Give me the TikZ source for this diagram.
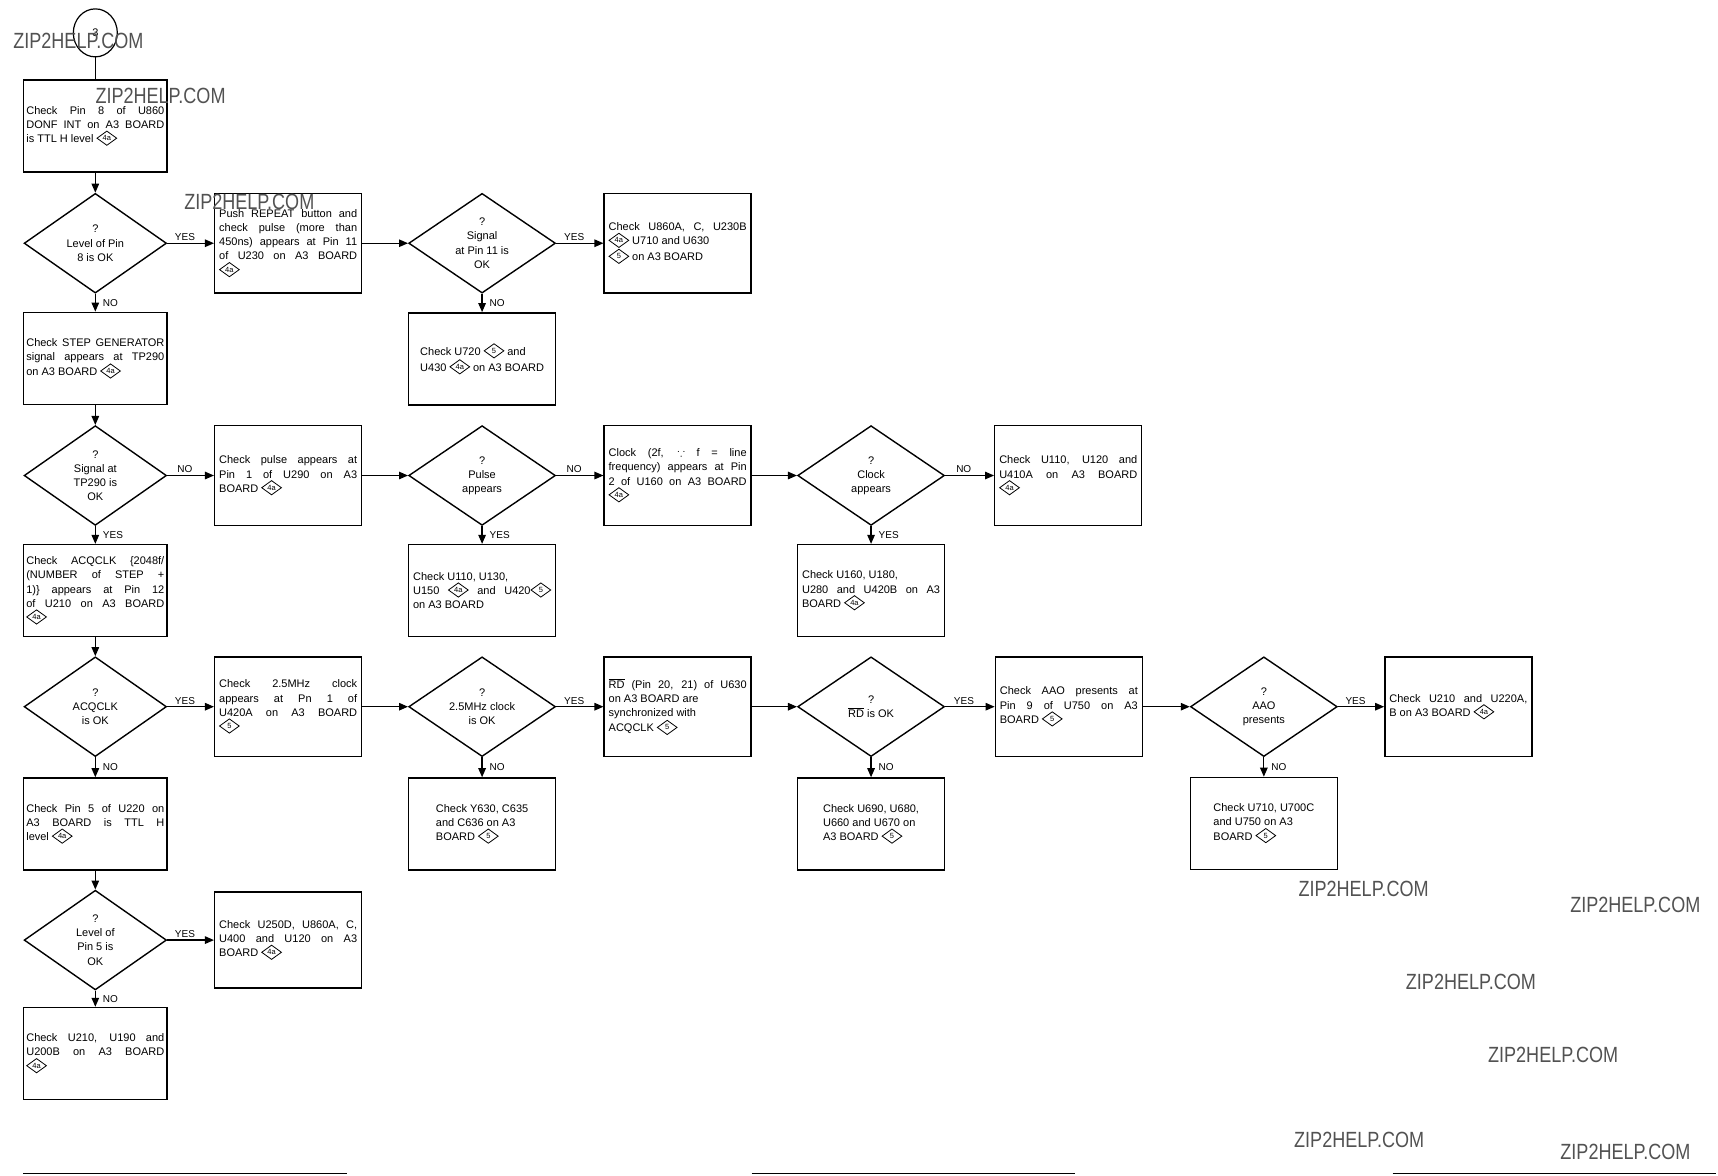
\documentclass[tikz,border=0pt]{standalone}
\usepackage{fontspec}
\setmainfont{Liberation Sans}
\usepackage{amssymb}
\usetikzlibrary{shapes.geometric,arrows.meta}
\newcommand\dmk[1]{\raisebox{-3pt}{\tikz\node[draw,diamond,shape aspect=1.3,line width=0.8pt,inner sep=0pt,minimum width=20pt,minimum height=14.5pt,font=\fontsize{7.5}{7.5}\selectfont]{#1};}}
\newcommand\rdbar{$\overline{\hbox{RD}}$}
\newcommand\jl[1]{\makebox[138pt][s]{#1}}
\tikzset{
  box/.style={draw,rectangle,line width=1.4pt,minimum width=147pt,minimum height=92pt,inner sep=2pt,align=left,font=\fontsize{11}{14.2}\selectfont},
  boxt/.style={box,minimum height=99.7pt},
  colone/.style={minimum width=143.5pt},
  dia/.style={draw,diamond,line width=1.4pt,aspect=1.47,inner sep=0pt,minimum width=146.8pt,minimum height=99.7pt,align=center,font=\fontsize{11}{14.2}\selectfont},
  arr/.style={line width=1.2pt,-{Triangle[length=9pt,width=7.5pt]}},
  plain/.style={line width=1.2pt},
  lblh/.style={above,pos=0.38,inner sep=2pt,font=\fontsize{10}{10}\selectfont},
  lblv/.style={right,pos=0.5,inner sep=7pt,font=\fontsize{10}{10}\selectfont},
  wm/.style={anchor=west,inner sep=0pt,text=black!68,font=\fontsize{22}{22}\selectfont}
}
\begin{document}
\begin{tikzpicture}[x=1.0957pt,y=-1.0957pt]
\fill[white] (0,0) rectangle (1568,1073.3);
\useasboundingbox (0,0) rectangle (1568,1073.3);

% start
\node[draw,ellipse,line width=1.2pt,minimum width=44pt,minimum height=48pt,inner sep=0pt,font=\fontsize{11}{11}\selectfont] (start) at (87,30) {3};

% column 1
\node[box,colone] (a1) at (87,115) {\jl{Check Pin 8 of U860}\\\jl{DONF INT on A3 BOARD}\\is TTL H level \dmk{4a}};
\node[dia,minimum width=142.4pt] (d1) at (87,222) {?\\Level of Pin\\8 is OK};
\node[box,colone] (a2) at (87,327) {\jl{Check STEP GENERATOR}\\\jl{signal appears at TP290}\\on A3 BOARD \dmk{4a}};
\node[dia,minimum width=142.4pt] (d2) at (87,434) {?\\Signal at\\TP290 is\\OK};
\node[box,colone] (a3) at (87,539) {\jl{Check ACQCLK \{2048f/}\\\jl{(NUMBER of STEP +}\\\jl{1)\} appears at Pin 12}\\\jl{of U210 on A3 BOARD}\\\dmk{4a}};
\node[dia,minimum width=142.4pt] (d3) at (87,645) {?\\ACQCLK\\is OK};
\node[box,colone] (a4) at (87,752) {\jl{Check Pin 5 of U220 on}\\\jl{A3 BOARD is TTL H}\\level \dmk{4a}};
\node[dia,minimum width=142.4pt] (d4) at (87,858) {?\\Level of\\Pin 5 is\\OK};
\node[box,colone] (a5) at (87,961.5) {\jl{Check U210, U190 and}\\\jl{U200B on A3 BOARD}\\\dmk{4a}};

% column 2
\node[boxt] (b1) at (263,222) {\jl{Push REPEAT button and}\\\jl{check pulse (more than}\\\jl{450ns) appears at Pin 11}\\\jl{of U230 on A3 BOARD}\\\dmk{4a}};
\node[boxt] (b2) at (263,434) {\jl{Check pulse appears at}\\\jl{Pin 1 of U290 on A3}\\BOARD \dmk{4a}};
\node[boxt] (b3) at (263,645) {\jl{Check 2.5MHz clock}\\\jl{appears at Pn 1 of}\\\jl{U420A on A3 BOARD}\\\dmk{5}};
\node[boxt,minimum height=96pt] (b4) at (263,858) {\jl{Check U250D, U860A, C,}\\\jl{U400 and U120 on A3}\\BOARD \dmk{4a}};

% column 3
\node[dia] (c1) at (440,222) {?\\Signal\\at Pin 11 is\\OK};
\node[box] (c1b) at (440,327.5) {Check U720 \dmk{5} and\\U430 \dmk{4a} on A3 BOARD};
\node[dia] (c2) at (440,434) {?\\Pulse\\appears};
\node[box] (c2b) at (440,539) {Check U110, U130,\\\jl{U150 \dmk{4a} and U420\dmk{5}}\\on A3 BOARD};
\node[dia] (c3) at (440,645) {?\\2.5MHz clock\\is OK};
\node[box] (c3b) at (440,752) {Check Y630, C635\\and C636 on A3\\BOARD \dmk{5}};

% column 4
\node[boxt] (e1) at (618.5,222) {\jl{Check U860A, C, U230B}\\\dmk{4a} U710 and U630\\\dmk{5} on A3 BOARD};
\node[boxt] (e2) at (618.5,434) {\jl{Clock (2f, $\because$ f = line}\\\jl{frequency) appears at Pin}\\\jl{2 of U160 on A3 BOARD}\\\dmk{4a}};
\node[boxt] (e3) at (618.5,645) {\jl{\rdbar\ (Pin 20, 21) of U630}\\on A3 BOARD are\\synchronized with\\ACQCLK \dmk{5}};

% column 5
\node[dia] (f2) at (795,434) {?\\Clock\\appears};
\node[box] (f2b) at (795,539) {Check U160, U180,\\\jl{U280 and U420B on A3}\\BOARD \dmk{4a}};
\node[dia] (f3) at (795,645) {?\\\rdbar\ is OK};
\node[box] (f3b) at (795,752) {Check U690, U680,\\U660 and U670 on\\A3 BOARD \dmk{5}};

% column 6
\node[boxt] (g2) at (975,434) {\jl{Check U110, U120 and}\\\jl{U410A on A3 BOARD}\\\dmk{4a}};
\node[boxt] (g3) at (975.5,645) {\jl{Check AAO presents at}\\\jl{Pin 9 of U750 on A3}\\BOARD \dmk{5}};

% column 7, 8
\node[dia] (h3) at (1153.5,645) {?\\AAO\\presents};
\node[box] (h3b) at (1153.5,751.5) {Check U710, U700C\\and U750 on A3\\BOARD \dmk{5}};
\node[boxt] (i3) at (1331,645) {\jl{Check U210 and U220A,}\\B on A3 BOARD \dmk{4a}};

% connectors
\draw[plain] (start) -- (a1);
\draw[arr] (a1) -- (d1);
\draw[arr] (d1) -- node[lblh]{YES} (b1);
\draw[arr] (d1) -- node[lblv]{NO} (a2);
\draw[arr] (b1) -- (c1);
\draw[arr] (c1) -- node[lblh]{YES} (e1);
\draw[arr] (c1) -- node[lblv]{NO} (c1b);

\draw[arr] (a2) -- (d2);
\draw[arr] (d2) -- node[lblh]{NO} (b2);
\draw[arr] (d2) -- node[lblv]{YES} (a3);
\draw[arr] (b2) -- (c2);
\draw[arr] (c2) -- node[lblh]{NO} (e2);
\draw[arr] (c2) -- node[lblv]{YES} (c2b);
\draw[arr] (e2) -- (f2);
\draw[arr] (f2) -- node[lblh]{NO} (g2);
\draw[arr] (f2) -- node[lblv]{YES} (f2b);

\draw[arr] (a3) -- (d3);
\draw[arr] (d3) -- node[lblh]{YES} (b3);
\draw[arr] (d3) -- node[lblv]{NO} (a4);
\draw[arr] (b3) -- (c3);
\draw[arr] (c3) -- node[lblh]{YES} (e3);
\draw[arr] (c3) -- node[lblv]{NO} (c3b);
\draw[arr] (e3) -- (f3);
\draw[arr] (f3) -- node[lblh]{YES} (g3);
\draw[arr] (f3) -- node[lblv]{NO} (f3b);
\draw[arr] (g3) -- (h3);
\draw[arr] (h3) -- node[lblh]{YES} (i3);
\draw[arr] (h3) -- node[lblv]{NO} (h3b);

\draw[arr] (a4) -- (d4);
\draw[arr] (d4) -- node[lblh]{YES} (b4);
\draw[arr] (d4) -- node[lblv]{NO} (a5);

% bottom rules
\draw[line width=1pt] (21,1071) -- (317,1071);
\draw[line width=1pt] (686,1071) -- (981,1071);
\draw[line width=1pt] (1271,1071) -- (1566,1071);

% watermarks
\node[wm] (wm1) at (12,37) {\scalebox{0.82}[1]{ZIP2HELP.COM}};
\node[wm] (wm2) at (87,88) {\scalebox{0.82}[1]{ZIP2HELP.COM}};
\node[wm] (wm3) at (168,184) {\scalebox{0.82}[1]{ZIP2HELP.COM}};
\node[wm] (wm4) at (1185,811) {\scalebox{0.82}[1]{ZIP2HELP.COM}};
\node[wm] (wm5) at (1433,826) {\scalebox{0.82}[1]{ZIP2HELP.COM}};
\node[wm] (wm6) at (1283,896) {\scalebox{0.82}[1]{ZIP2HELP.COM}};
\node[wm] (wm7) at (1358,963) {\scalebox{0.82}[1]{ZIP2HELP.COM}};
\node[wm] (wm8) at (1181,1040) {\scalebox{0.82}[1]{ZIP2HELP.COM}};
\node[wm] (wm9) at (1424,1051) {\scalebox{0.82}[1]{ZIP2HELP.COM}};
\end{tikzpicture}
\end{document}
